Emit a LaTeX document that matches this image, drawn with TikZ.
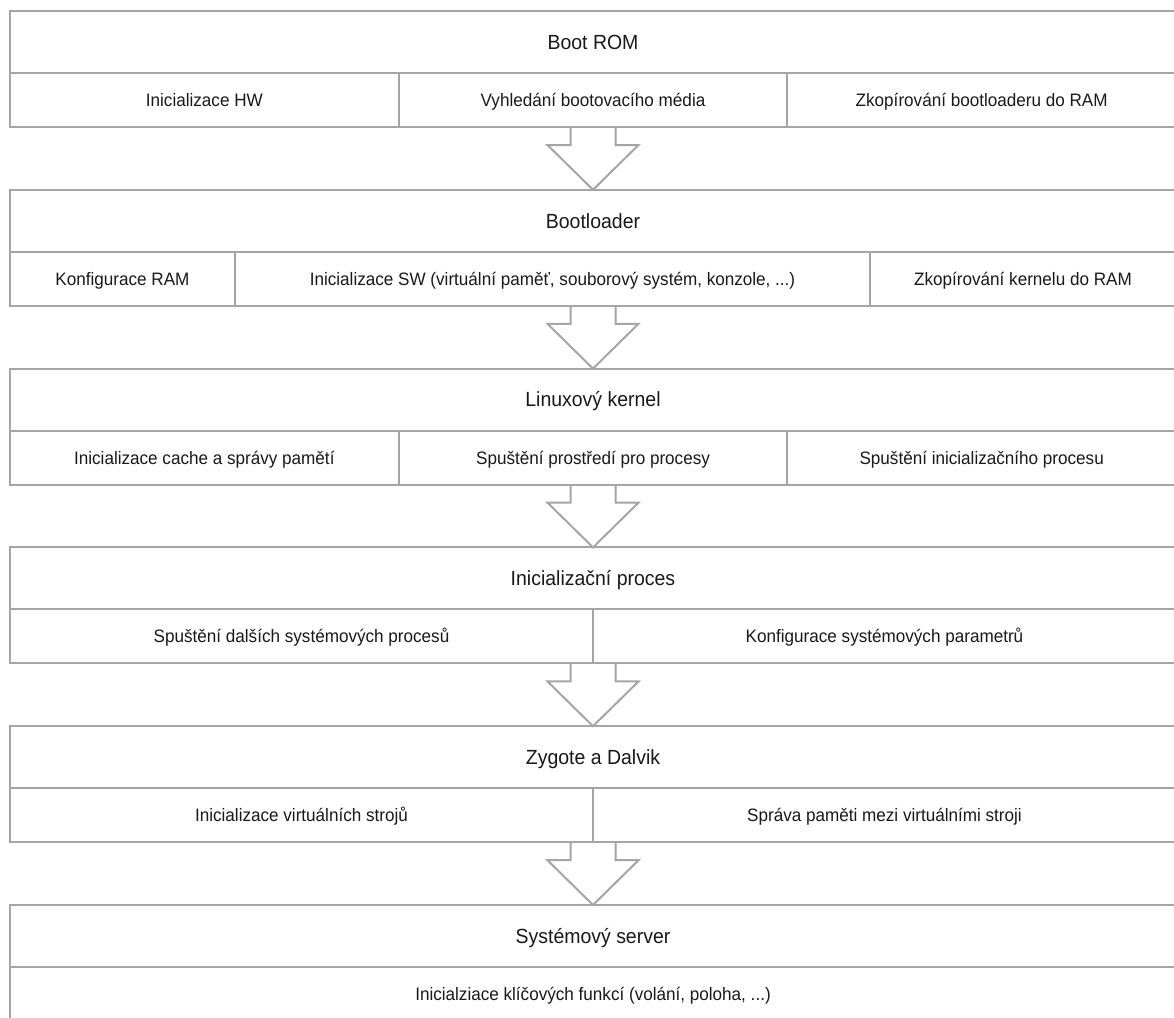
\documentclass[tikz,border=0pt]{standalone}
\usepackage{fontspec}
\setmainfont{Liberation Sans}[FakeStretch=0.95]
\usetikzlibrary{calc}
\definecolor{linegray}{RGB}{165,165,165}
\definecolor{txt}{RGB}{25,25,25}
\newcommand{\subfnt}{\fontsize{18}{20}\selectfont}
\newcommand{\titlefnt}{\fontsize{20.5}{24}\selectfont}
\newcommand{\blockarrow}[2]{%
  \draw[barrow] ($(#1.south -| #2.north)+(-22.5,0)$) -- ++(0,18) -- ++(-23,0) -- (#2.north)
    -- ($(#1.south -| #2.north)+(45.5,18)$) -- ++(-23,0) -- ++(0,-18);}
\begin{document}
\begin{tikzpicture}[x=1pt,y=-1pt,
  cell/.style={draw=linegray, line width=2pt, minimum height=54pt, inner sep=0pt, outer sep=0pt,
    text height=17pt, text depth=4pt, anchor=north west, font=\subfnt, text=txt},
  titlecell/.style={draw=linegray, line width=2pt, minimum height=62pt, minimum width=1166pt, inner sep=0pt, outer sep=0pt,
    text height=19pt, text depth=4.5pt, anchor=north west, font=\titlefnt, text=txt},
  barrow/.style={draw=linegray, line width=2pt, line join=miter}]
\clip (0,0) rectangle (1174,1017);
\fill[white] (0,0) rectangle (1174,1017);
% Box 1
\node[titlecell] (t1) at (10,11) {Boot ROM};
\node[cell, minimum width=388.67pt] (b1a) at (10,73) {Inicializace HW};
\node[cell, minimum width=388.67pt] (b1b) at (398.67,73) {Vyhledání bootovacího média};
\node[cell, minimum width=388.67pt] (b1c) at (787.33,73) {Zkopírování bootloaderu do RAM};
% Box 2
\node[titlecell] (t2) at (10,189.8) {Bootloader};
\node[cell, minimum width=225pt] (b2a) at (10,251.8) {Konfigurace RAM};
\node[cell, minimum width=635pt] (b2b) at (235,251.8) {Inicializace SW (virtuální paměť, souborový systém, konzole, ...)};
\node[cell, minimum width=306pt] (b2c) at (870,251.8) {Zkopírování kernelu do RAM};
% Box 3
\node[titlecell] (t3) at (10,368.6) {Linuxový kernel};
\node[cell, minimum width=388.67pt] (b3a) at (10,430.6) {Inicializace cache a správy pamětí};
\node[cell, minimum width=388.67pt] (b3b) at (398.67,430.6) {Spuštění prostředí pro procesy};
\node[cell, minimum width=388.67pt] (b3c) at (787.33,430.6) {Spuštění inicializačního procesu};
% Box 4
\node[titlecell] (t4) at (10,547.4) {Inicializační proces};
\node[cell, minimum width=583pt] (b4a) at (10,609.4) {Spuštění dalších systémových procesů};
\node[cell, minimum width=583pt] (b4b) at (593,609.4) {Konfigurace systémových parametrů};
% Box 5
\node[titlecell] (t5) at (10,726.2) {Zygote a Dalvik};
\node[cell, minimum width=583pt] (b5a) at (10,788.2) {Inicializace virtuálních strojů};
\node[cell, minimum width=583pt] (b5b) at (593,788.2) {Správa paměti mezi virtuálními stroji};
% Box 6
\node[titlecell] (t6) at (10,905) {Systémový server};
\node[cell, minimum width=1166pt] (b6a) at (10,967) {Inicialziace klíčových funkcí (volání, poloha, ...)};
% Arrows
\blockarrow{b1b}{t2}
\blockarrow{b2b}{t3}
\blockarrow{b3b}{t4}
\blockarrow{b4a}{t5}
\blockarrow{b5a}{t6}
\end{tikzpicture}
\end{document}
